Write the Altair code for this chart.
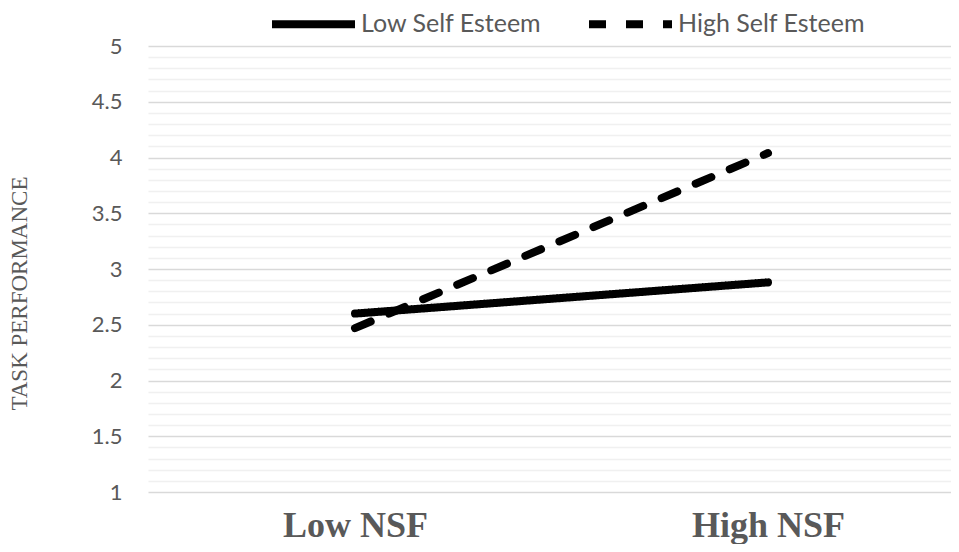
import altair as alt
import pandas as pd

categories = ["Low NSF", "High NSF"]
series_names = ["Low Self Esteem", "High Self Esteem"]
low_se = [2.60, 2.88]
high_se = [2.47, 4.04]
y_ticks = [round(1 + 0.1 * i, 1) for i in range(41)]

rows = []
for name, vals in zip(series_names, [low_se, high_se]):
    for c, v in zip(categories, vals):
        rows.append({"nsf": c, "value": v, "series": name})
df = pd.DataFrame(rows)

is_major = "abs(datum.value*2 - round(datum.value*2)) < 0.001"

chart = alt.Chart(df).mark_line(
    strokeWidth=8, strokeCap="round", color="black"
).encode(
    x=alt.X(
        "nsf:N",
        sort=categories,
        scale=alt.Scale(type="point", padding=0.4722, align=0.5308),
        axis=alt.Axis(
            title=None,
            labelFont="Liberation Serif",
            labelFontSize=36,
            labelFontWeight="bold",
            labelColor="#595959",
            labelAngle=0,
            labelBaseline="alphabetic",
            labelPadding=44,
            ticks=False,
            tickSize=0,
            domain=False,
            grid=False,
        ),
    ),
    y=alt.Y(
        "value:Q",
        scale=alt.Scale(domain=[1, 5], nice=False, zero=False),
        axis=alt.Axis(
            values=y_ticks,
            title="TASK PERFORMANCE",
            titleFont="Liberation Serif",
            titleFontSize=23,
            titleFontWeight="normal",
            titleColor="#595959",
            titleAngle=270,
            titleAlign="center",
            titleBaseline="alphabetic",
            titleX=-122,
            titleY=247,
            labelFont="Lato",
            labelFontSize=22,
            labelColor="#595959",
            labelPadding=26,
            labelExpr=f"{is_major} ? '' + datum.value : ''",
            ticks=False,
            tickSize=0,
            domain=False,
            grid=True,
            gridColor={"condition": {"test": is_major, "value": "#d9d9d9"}, "value": "#f0f0f0"},
            gridWidth=1.5,
        ),
    ),
    strokeDash=alt.StrokeDash(
        "series:N",
        sort=series_names,
        scale=alt.Scale(domain=series_names, range=[[1, 0], [17, 20]]),
        legend=alt.Legend(
            title=None,
            orient="none",
            legendX=120,
            legendY=-67.5,
            direction="horizontal",
            columns=2,
            padding=0,
            symbolType="stroke",
            symbolSize=6889,
            symbolStrokeWidth=8,
            symbolStrokeColor="black",
            labelFont="Lato",
            labelFontSize=25,
            labelColor="#595959",
            labelOffset=2,
            labelLimit=400,
            columnPadding=31,
        ),
    ),
).properties(
    width=803,
    height=446,
    autosize="none",
    background="white",
    padding={"left": 140, "top": 38, "right": 0, "bottom": 52},
).configure_view(stroke=None)

chart.save("out.html", embed_options={"renderer": "svg", "actions": False})
